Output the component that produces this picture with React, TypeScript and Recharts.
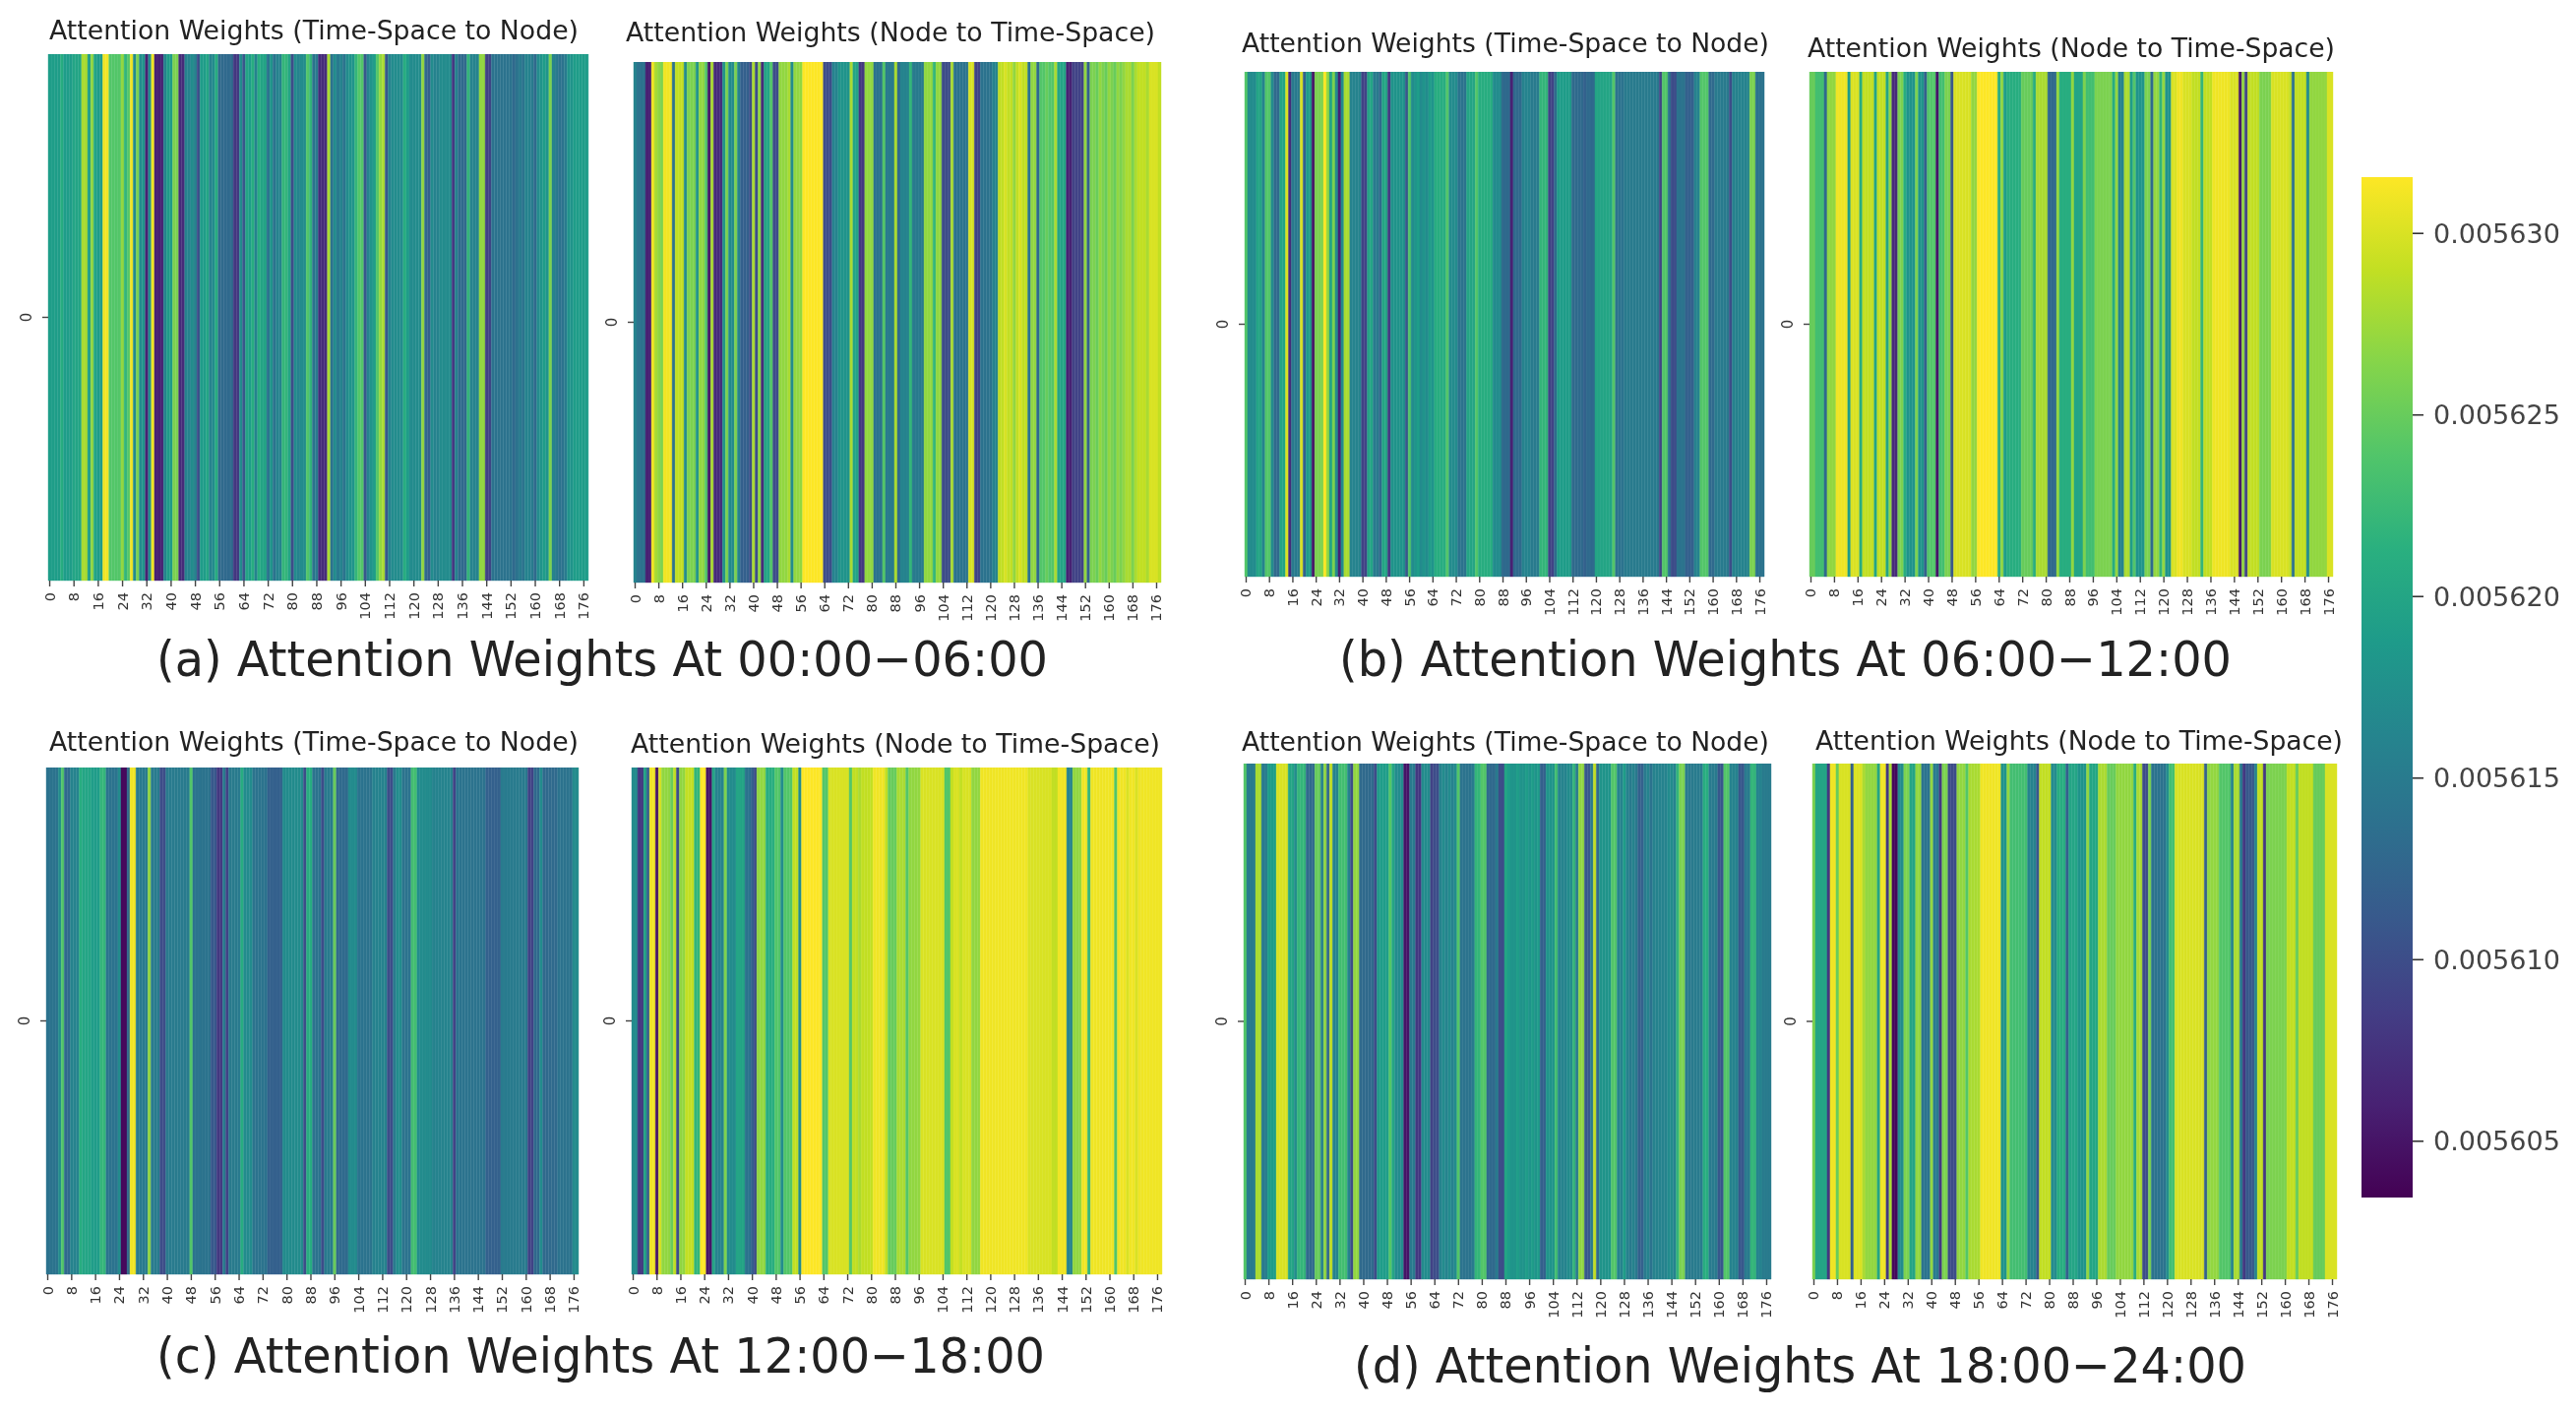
import React from "react";
import { BarChart, Bar, Cell, XAxis, YAxis } from "recharts";

// Weights are stored as millionths above 0.0056 (e.g. 19 means 0.005619)
const panelATimeToNode = [19,19,19,19,21,19,19,19,20,20,20,28,28,19,27,20,19,19,31,31,24,24,24,24,27,22,24,31,17,26,17,18,6,17,31,6,6,6,16,19,19,26,26,7,7,16,16,17,16,10,19,19,20,16,17,21,13,13,13,13,13,8,8,17,11,20,19,21,16,21,20,20,14,18,14,16,16,22,22,20,10,17,16,17,17,24,22,14,15,7,7,7,28,14,17,15,16,14,17,18,18,22,24,24,11,16,18,19,24,27,28,11,16,17,17,17,17,21,19,17,17,17,17,27,13,12,17,16,16,17,17,17,17,8,16,13,13,13,22,16,16,16,27,27,9,9,14,14,14,14,14,14,14,13,14,15,14,16,16,15,13,17,18,19,18,26,16,15,14,14,15,18,18,19,19,19,19,19];
const panelANodeToTime = [16,14,14,14,6,6,31,28,27,26,31,31,31,14,29,29,29,17,26,26,26,18,27,27,24,5,28,7,7,7,18,26,17,17,26,16,12,12,12,10,28,10,27,7,20,20,24,10,10,27,27,27,28,17,27,27,27,32,32,32,32,32,32,32,10,10,10,16,16,18,18,18,18,28,20,20,8,8,27,27,27,14,14,14,24,15,15,15,28,13,16,16,16,22,15,15,15,15,27,27,27,22,27,27,10,10,10,28,14,14,14,14,14,30,30,9,9,14,14,14,14,16,16,29,29,30,29,29,27,29,30,29,29,14,27,27,13,24,24,25,24,24,28,20,20,20,6,6,9,9,9,9,27,12,26,26,25,27,26,25,27,26,25,27,26,27,28,28,26,28,29,29,29,28,30,30,30,29];
const panelBTimeToNode = [24,17,17,17,20,20,16,24,24,17,13,13,20,20,30,7,15,15,15,30,12,19,19,5,26,26,26,32,27,20,26,17,6,17,28,28,16,16,16,16,9,9,20,20,15,15,13,20,20,8,18,18,18,18,18,11,24,17,18,19,17,18,17,19,18,21,21,21,21,24,17,17,17,14,14,14,20,20,20,24,21,21,21,21,21,17,17,17,13,13,13,6,13,13,13,16,16,16,15,15,15,22,22,22,9,9,13,19,19,19,19,19,13,13,13,13,12,13,13,13,20,20,20,20,20,20,24,14,14,14,15,15,15,15,15,15,15,15,15,15,15,15,9,24,24,14,10,10,14,14,14,12,12,12,16,16,24,24,24,13,13,15,15,15,15,15,10,16,16,16,16,16,16,26,26,14,14,14];
const panelBNodeToTime = [25,25,23,23,23,13,27,27,27,31,31,31,31,19,30,30,30,21,29,29,29,29,20,29,29,29,20,27,7,7,26,26,21,18,18,18,26,18,18,12,24,24,24,5,23,23,26,26,11,30,30,30,30,30,30,27,27,32,32,32,32,32,32,32,21,27,19,21,21,21,21,21,25,25,25,25,21,28,28,28,28,13,13,13,27,21,21,21,21,27,20,20,20,26,23,23,23,26,26,26,26,26,26,21,27,16,16,28,28,19,24,18,18,18,26,26,13,27,27,22,27,18,18,30,30,31,31,30,30,30,29,29,29,22,29,29,29,31,31,31,31,31,31,30,30,30,5,27,9,29,29,29,29,26,26,26,26,30,30,30,30,30,30,29,14,29,29,29,29,17,27,27,27,27,27,27,30,30];
const panelCTimeToNode = [14,14,14,14,17,24,13,13,16,16,16,21,20,20,20,19,19,19,22,22,14,14,14,14,17,4,4,13,31,31,15,15,15,15,27,15,15,15,10,10,15,15,15,15,15,15,15,15,24,14,14,14,14,14,14,11,11,8,8,15,9,15,15,15,15,21,17,17,17,14,14,14,14,14,12,12,12,12,12,17,17,17,17,17,17,17,10,21,21,14,14,14,10,15,15,15,25,13,13,13,13,17,17,17,14,14,14,14,14,16,16,16,16,16,10,10,15,17,17,14,14,14,23,23,17,17,17,17,17,16,16,16,16,16,16,16,9,14,14,14,14,14,14,14,14,14,14,12,12,12,12,12,15,15,15,15,15,15,15,15,15,9,9,13,13,17,13,13,13,13,13,14,14,14,14,14,17,17];
const panelCNodeToTime = [17,17,8,8,20,12,31,31,5,30,27,27,27,25,29,10,27,27,29,29,29,22,22,32,32,5,5,20,16,16,16,26,17,17,17,20,20,20,14,14,12,10,27,27,27,21,21,21,24,24,17,24,24,24,29,29,17,32,32,32,32,32,32,32,24,24,30,30,30,30,30,30,30,24,29,29,28,29,29,29,29,31,31,31,31,29,25,25,25,28,28,28,24,27,27,27,27,30,30,30,30,30,30,30,30,24,24,29,30,30,29,30,30,30,27,27,27,31,31,31,31,31,31,31,31,31,31,31,31,31,31,31,31,30,30,30,30,30,30,30,30,29,29,31,31,31,16,16,27,27,27,31,31,22,31,31,31,31,31,31,31,31,24,31,31,31,30,31,31,30,31,31,31,31,31,31,31,31];
const panelDTimeToNode = [24,15,15,15,28,28,15,15,19,19,19,30,30,30,30,20,20,17,22,22,22,13,13,13,25,25,16,27,13,29,16,16,23,23,23,16,10,27,27,13,13,13,13,13,10,19,19,19,19,24,20,17,17,17,5,5,15,15,8,8,17,17,17,9,10,10,16,17,16,17,16,17,24,14,14,14,14,15,22,22,24,24,13,13,13,15,10,10,20,19,18,18,19,18,18,19,18,19,18,19,12,12,18,18,18,23,16,16,16,17,17,22,15,27,27,11,11,15,29,13,18,18,18,18,24,24,16,16,19,16,15,16,15,12,12,15,16,14,16,16,16,16,16,17,17,16,22,26,26,15,15,15,15,15,15,21,21,15,15,15,11,11,24,24,16,16,16,11,11,15,15,22,22,16,16,15,15,15];
const panelDNodeToTime = [26,20,20,20,20,8,31,31,25,30,30,30,30,12,30,30,30,28,27,27,27,27,20,31,31,8,28,4,4,17,17,26,26,20,20,27,27,14,14,14,27,15,15,8,26,26,10,10,10,27,27,27,24,28,28,28,28,31,31,31,31,31,31,31,18,18,27,23,23,23,23,23,23,16,16,16,11,29,29,29,29,17,17,21,21,21,12,20,20,20,18,18,18,27,20,20,20,28,28,28,25,25,25,27,27,27,27,27,27,21,28,28,10,10,26,14,14,14,14,14,17,23,23,30,30,30,30,30,30,30,30,30,30,12,27,27,27,27,24,24,24,24,16,28,28,15,8,11,11,11,16,29,29,8,26,26,26,26,26,26,26,29,29,29,25,29,29,29,29,29,25,25,25,25,30,30,30,30];

const xTicks = [0,8,16,24,32,40,48,56,64,72,80,88,96,104,112,120,128,136,144,152,160,168,176];
const colorbarTicks = [5,10,15,20,25,30];
const colorMin = 3.45;
const colorMax = 31.55;
const viridis = ["#440154","#482173","#433e85","#38598c","#2d708e","#25858e","#1e9b8a","#2ab07f","#51c56a","#85d54a","#c2df23","#fde725"];

const titleTS = "Attention Weights (Time-Space to Node)";
const titleNT = "Attention Weights (Node to Time-Space)";

const panels = [
  { values: panelATimeToNode, x: 49, y: 55, w: 549, h: 535 },
  { values: panelANodeToTime, x: 644, y: 63, w: 536, h: 529 },
  { values: panelBTimeToNode, x: 1265, y: 73, w: 528, h: 513 },
  { values: panelBNodeToTime, x: 1839, y: 73, w: 532, h: 513 },
  { values: panelCTimeToNode, x: 47, y: 780, w: 541, h: 515 },
  { values: panelCNodeToTime, x: 642, y: 780, w: 539, h: 515 },
  { values: panelDTimeToNode, x: 1264, y: 776, w: 536, h: 524 },
  { values: panelDNodeToTime, x: 1842, y: 776, w: 533, h: 524 },
];

const texts = [
  { s: titleTS, x: 50, y: 30, w: 538, f: 27 },
  { s: titleNT, x: 636, y: 32, w: 538, f: 27 },
  { s: titleTS, x: 1262, y: 43, w: 536, f: 27 },
  { s: titleNT, x: 1837, y: 48, w: 536, f: 27 },
  { s: titleTS, x: 50, y: 753, w: 538, f: 27 },
  { s: titleNT, x: 641, y: 755, w: 538, f: 27 },
  { s: titleTS, x: 1262, y: 753, w: 536, f: 27 },
  { s: titleNT, x: 1845, y: 752, w: 536, f: 27 },
  { s: "(a) Attention Weights At 00:00\u221206:00", x: 159, y: 670, w: 906, f: 50 },
  { s: "(b) Attention Weights At 06:00\u221212:00", x: 1361, y: 670, w: 907, f: 50 },
  { s: "(c) Attention Weights At 12:00\u221218:00", x: 159, y: 1378, w: 903, f: 50 },
  { s: "(d) Attention Weights At 18:00\u221224:00", x: 1376, y: 1388, w: 907, f: 50 },
];

const FONT = "DejaVu Sans";

function levelColor(v: number) {
  const t = Math.max(0, Math.min(1, (v - colorMin) / (colorMax - colorMin))) * (viridis.length - 1);
  const i = Math.min(viridis.length - 2, Math.floor(t));
  const f = t - i;
  const a = viridis[i], b = viridis[i + 1];
  const ch = (s: string, k: number) => parseInt(s.slice(1 + k * 2, 3 + k * 2), 16);
  const mix = (k: number) => Math.round(ch(a, k) + (ch(b, k) - ch(a, k)) * f);
  return `rgb(${mix(0)},${mix(1)},${mix(2)})`;
}

const XTick = (p: any) => (
  <text x={p.x} y={p.y} transform={`rotate(-90 ${p.x} ${p.y})`} textAnchor="end" dominantBaseline="central" fontSize={14.5} fontFamily={FONT} fill="#333">
    {p.payload.value}
  </text>
);
const YTick = (p: any) => (
  <text x={p.x} y={p.y} transform={`rotate(-90 ${p.x} ${p.y})`} textAnchor="middle" dominantBaseline="central" fontSize={15} fontFamily={FONT} fill="#333">
    0
  </text>
);

function Heat({ values, x, y, w, h }: any) {
  const data = values.map((v: number, i: number) => ({ i, full: 1, v }));
  return (
    <div style={{ position: "absolute", left: x - 40, top: y }}>
      <BarChart width={w + 50} height={h + 60} data={data} barCategoryGap={0} barGap={0} margin={{ top: 0, right: 10, bottom: 0, left: 0 }}>
        <XAxis dataKey="i" type="category" ticks={xTicks} interval={0} height={60} axisLine={false} tickSize={6} tickMargin={6} tick={XTick} tickLine={{ stroke: "#444", strokeWidth: 1.4 }} />
        <YAxis type="number" domain={[0, 1]} ticks={[0.5]} width={40} axisLine={false} tickSize={6} tickMargin={16} tick={YTick} tickLine={{ stroke: "#444", strokeWidth: 1.4 }} />
        <Bar dataKey="full" isAnimationActive={false}>
          {data.map((d: any) => {
            const c = levelColor(d.v);
            return <Cell key={d.i} fill={c} stroke={c} strokeWidth={0.4} />;
          })}
        </Bar>
      </BarChart>
    </div>
  );
}

const colorbarData = [{ name: "w", range: [colorMin, colorMax] }];

function Colorbar() {
  return (
    <div style={{ position: "absolute", left: 2400, top: 180 }}>
      <BarChart width={210} height={1037} data={colorbarData} barCategoryGap={0} margin={{ top: 0, right: 0, bottom: 0, left: 0 }}>
        <defs>
          <linearGradient id="viridisBar" x1="0" y1="1" x2="0" y2="0">
            {viridis.map((c, i) => (
              <stop key={c} offset={i / (viridis.length - 1)} stopColor={c} />
            ))}
          </linearGradient>
        </defs>
        <XAxis dataKey="name" hide />
        <YAxis
          type="number"
          orientation="right"
          domain={[colorMin, colorMax]}
          ticks={colorbarTicks}
          width={158}
          axisLine={false}
          tickSize={11}
          tickMargin={10}
          tickFormatter={(v: number) => (0.0056 + v / 1e6).toFixed(6)}
          tick={{ fontSize: 27, fontFamily: FONT, fill: "#444" }}
          tickLine={{ stroke: "#333", strokeWidth: 1.6 }}
        />
        <Bar dataKey="range" fill="url(#viridisBar)" isAnimationActive={false} />
      </BarChart>
    </div>
  );
}

export default function App() {
  return (
    <div style={{ position: "absolute", left: 0, top: 0, width: 2618, height: 1437, background: "#fff", overflow: "hidden", filter: "blur(0.7px)" }}>
      {panels.map((p, i) => (
        <Heat key={i} {...p} />
      ))}
      <Colorbar />
      <svg width={2618} height={1437} style={{ position: "absolute", left: 0, top: 0, pointerEvents: "none" }}>
        {texts.map((t, i) => (
          <text key={i} x={t.x} y={t.y} fontSize={t.f} fontFamily={FONT} fill="#222" dominantBaseline="central" textLength={t.w} lengthAdjust="spacingAndGlyphs">
            {t.s}
          </text>
        ))}
      </svg>
    </div>
  );
}
